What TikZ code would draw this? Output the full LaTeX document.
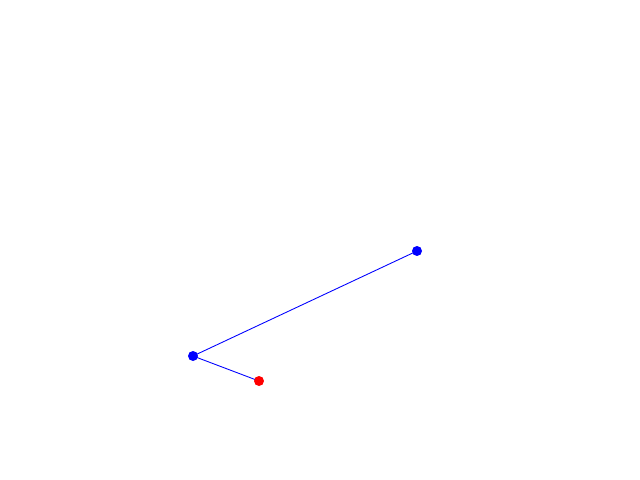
\documentclass[tikz,border=0pt]{standalone}
\usepackage{tikz}
\usetikzlibrary{backgrounds}
\begin{document}
\begin{tikzpicture}[
  x=0.02cm, y=-0.02cm,
  vertex/.style={circle, fill=#1, draw=none, minimum size=0.2cm, inner sep=0pt},
  link/.style={blue, line width=0.5pt},
]
  \useasboundingbox (0,0) rectangle (640,480);
  \node[vertex=blue] (top) at (417,251) {};
  \node[vertex=blue] (mid) at (193,356) {};
  \node[vertex=red] (end) at (259,381) {};

  \begin{scope}[on background layer]
    \draw[link] (top.center) -- (mid.center);
    \draw[link] (mid.center) -- (end.center);
  \end{scope}
\end{tikzpicture}
\end{document}
